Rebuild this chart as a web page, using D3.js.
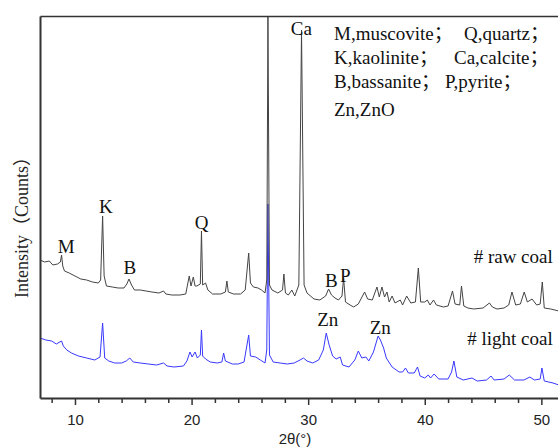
<html>

<head>
    <style>
        body { margin: 0; background: white; }
    </style>
</head>

<body>
    <svg id="container" height="448" width="558">
        <g id="body" />
    </svg>
</body>
<script src="https://d3js.org/d3.v7.min.js"></script>

<script>
    // raw coal pattern, [2theta, intensity]
    let rawCoal = [
        [7.0, 138], [7.4, 136], [7.8, 137], [8.1, 133], [8.5, 134], [8.75, 136], [8.85, 143], [8.95, 132],
        [9.1, 127], [9.5, 125], [10.0, 122], [10.5, 119], [11.0, 118], [11.5, 116], [12.0, 115], [12.2, 118],
        [12.37, 182], [12.5, 122], [12.7, 112], [13.2, 111], [13.7, 110], [14.2, 110], [14.45, 114], [14.63, 119],
        [14.85, 113], [15.1, 108], [15.6, 108], [16.1, 107], [16.6, 106], [17.2, 105], [17.6, 107], [17.8, 104],
        [18.3, 103], [19.0, 103], [19.5, 104], [19.8, 122], [19.95, 112], [20.15, 121], [20.3, 112], [20.45, 112],
        [20.75, 114], [20.85, 167], [20.95, 113], [21.2, 115], [21.4, 108], [21.8, 104], [22.5, 104], [22.9, 106],
        [23.03, 117], [23.15, 106], [23.6, 104], [24.2, 104], [24.6, 108], [24.9, 145], [25.05, 115], [25.3, 111],
        [25.7, 110], [26.0, 108], [26.3, 105], [26.45, 118], [26.55, 381], [26.68, 113], [26.9, 108], [27.4, 105],
        [27.8, 108], [27.92, 124], [28.05, 105], [28.3, 103], [28.6, 108], [28.85, 102], [29.2, 113], [29.43, 368],
        [29.65, 113], [29.9, 105], [30.5, 99], [31.0, 98], [31.5, 102], [31.75, 109], [32.0, 103], [32.3, 100],
        [32.6, 98], [32.9, 102], [33.04, 120], [33.2, 96], [33.6, 93], [33.9, 91], [34.3, 94], [34.84, 106],
        [35.1, 99], [35.5, 98], [35.9, 111], [36.1, 101], [36.33, 111], [36.55, 101], [36.76, 106], [36.95, 96],
        [37.2, 102], [37.45, 95], [37.9, 98], [38.1, 93], [38.45, 102], [38.8, 95], [39.2, 96], [39.45, 130],
        [39.65, 96], [40.0, 96], [40.22, 98], [40.45, 93], [40.75, 98], [41.0, 93], [41.6, 91], [42.0, 92],
        [42.38, 107], [42.6, 94], [43.0, 93], [43.15, 112], [43.35, 92], [43.7, 90], [44.2, 89], [45.0, 90],
        [45.55, 95], [45.8, 91], [46.2, 89], [46.8, 90], [47.2, 93], [47.48, 106], [47.8, 93], [48.2, 94],
        [48.53, 106], [48.8, 96], [49.2, 99], [49.6, 93], [49.9, 94], [50.08, 116], [50.25, 90], [50.8, 89],
        [51.5, 87], [52.5, 86]
    ]

    // light coal pattern, [2theta, intensity]
    let lightCoal = [
        [7.0, 60], [7.5, 58], [8.0, 57], [8.4, 54], [8.85, 57], [9.0, 52], [9.3, 48], [9.7, 45],
        [10.3, 42], [11.0, 40], [11.7, 38], [12.15, 41], [12.37, 75], [12.55, 40], [12.9, 37], [13.4, 35],
        [14.0, 35], [14.4, 37], [14.7, 40], [15.0, 36], [15.6, 35], [16.3, 34], [17.0, 33], [17.6, 35],
        [17.9, 32], [18.5, 31], [19.3, 32], [19.6, 37], [19.86, 46], [20.05, 41], [20.3, 46], [20.5, 40],
        [20.75, 43], [20.85, 68], [20.95, 42], [21.2, 39], [21.6, 36], [22.2, 35], [22.6, 36], [22.75, 45],
        [22.9, 37], [23.5, 34], [24.0, 34], [24.5, 36], [24.9, 63], [25.05, 42], [25.5, 41], [25.9, 38],
        [26.3, 35], [26.45, 48], [26.55, 194], [26.68, 43], [27.0, 36], [27.6, 35], [28.2, 34], [28.8, 35],
        [29.3, 38], [29.6, 40], [29.9, 37], [30.4, 35], [30.9, 38], [31.3, 48], [31.55, 65], [31.8, 53],
        [32.1, 42], [32.4, 39], [32.75, 41], [32.95, 33], [33.5, 31], [34.0, 38], [34.3, 47], [34.6, 40],
        [34.95, 41], [35.2, 37], [35.6, 46], [36.0, 62], [36.2, 58], [36.47, 50], [36.7, 40], [37.2, 31],
        [37.8, 26], [38.1, 26], [38.35, 30], [38.6, 25], [39.1, 25], [39.38, 31], [39.6, 22], [40.0, 20],
        [40.3, 23], [40.5, 20], [40.8, 24], [41.2, 19], [42.0, 19], [42.3, 26], [42.5, 37], [42.75, 21],
        [43.3, 18], [44.05, 20], [44.5, 17], [45.3, 18], [45.68, 22], [45.95, 18], [46.8, 19], [47.25, 23],
        [47.7, 18], [48.5, 18], [49.02, 21], [49.4, 18], [49.9, 19], [50.05, 30], [50.25, 17], [51.0, 15],
        [51.5, 13], [52.5, 12]
    ]

    let majorTicks = [10, 20, 30, 40, 50]
    let minorTicks = [8, 12, 14, 16, 18, 22, 24, 26, 28, 32, 34, 36, 38, 42, 44, 46, 48, 52]

    // peak labels: [text, 2theta, intensity level of baseline]
    let peakLabels = [
        ["M", 9.25, 145], ["K", 12.64, 185], ["B", 14.70, 124], ["Q", 20.87, 169],
        ["Ca", 29.41, 363], ["B", 31.98, 111], ["P", 33.18, 116],
        ["Zn", 31.68, 72], ["Zn", 36.18, 64]
    ]
    let seriesLabels = [["# raw coal", 135], ["# light coal", 53]]

    let legendRows = [
        ["M,muscovite；", "Q,quartz；"],
        ["K,kaolinite；", "Ca,calcite；"],
        ["B,bassanite；", "P,pyrite；"],
        ["Zn,ZnO"]
    ]

    let svg = d3.select("#container")
    let body = d3.select("#body")
    let plotLeft = 40, plotTop = 16, plotBottom = 398, plotRight = 570.5

    let x = d3.scaleLinear().domain([7, 52.5]).range([plotLeft, plotRight])
    let y = d3.scaleLinear().domain([0, 382]).range([plotBottom, plotTop])

    let serif = "'Liberation Serif', 'Times New Roman', 'Noto Sans CJK SC', serif"
    let sans = "'Liberation Sans', Arial, sans-serif"

    svg.append("defs").append("clipPath").attr("id", "clip")
        .append("rect").attr("x", plotLeft).attr("y", plotTop)
        .attr("width", plotRight - plotLeft).attr("height", plotBottom - plotTop)

    let line = d3.line().x(d => x(d[0])).y(d => y(d[1]))

    body.append("path").datum(lightCoal)
        .attr("d", line)
        .attr("clip-path", "url(#clip)")
        .attr("fill", "none")
        .attr("stroke", "#3838ff")
        .attr("stroke-width", 1)

    body.append("path").datum(rawCoal)
        .attr("d", line)
        .attr("clip-path", "url(#clip)")
        .attr("fill", "none")
        .attr("stroke", "#444")
        .attr("stroke-width", 1)

    // frame
    body.append("g").attr("transform", `translate(0,${plotTop})`)
        .call(d3.axisTop(x).tickValues([]).tickSizeOuter(0))
        .select(".domain").attr("stroke", "#333").attr("stroke-width", 1.5)
    body.append("g").attr("transform", `translate(${plotLeft},0)`)
        .call(d3.axisLeft(y).tickValues([]).tickSizeOuter(0))
        .select(".domain").attr("stroke", "#333").attr("stroke-width", 2)

    body.append("g").attr("transform", `translate(0,${plotBottom})`)
        .call(d3.axisBottom(x).tickValues(minorTicks).tickSize(5).tickFormat(""))
        .call(g => g.select(".domain").remove())
        .selectAll("line").attr("stroke", "#333").attr("stroke-width", 1.5)

    let xAxis = body.append("g").attr("transform", `translate(0,${plotBottom})`)
        .call(d3.axisBottom(x).tickValues(majorTicks).tickSize(7).tickSizeOuter(0).tickFormat(d3.format("d")))
    xAxis.select(".domain").attr("stroke", "#333").attr("stroke-width", 2)
    xAxis.selectAll("line").attr("stroke", "#333").attr("stroke-width", 1.5)
    xAxis.selectAll("text")
        .attr("y", 27).attr("dy", 0)
        .attr("font-family", sans).attr("font-size", "15px").attr("fill", "#222")

    body.append("text")
        .attr("x", 295).attr("y", 444)
        .attr("text-anchor", "middle")
        .attr("font-family", sans).attr("font-size", "15px").attr("fill", "#222")
        .text("2θ(°)")

    body.append("text")
        .attr("transform", "translate(28,223) rotate(-90)")
        .attr("text-anchor", "middle")
        .attr("font-family", serif).attr("font-size", "18px").attr("fill", "#222")
        .text("Intensity（Counts）")

    body.selectAll(".peak").data(peakLabels)
        .enter().append("text")
        .attr("class", "peak")
        .attr("x", d => x(d[1])).attr("y", d => y(d[2]))
        .attr("text-anchor", "middle")
        .attr("font-family", serif).attr("font-size", "19px").attr("fill", "#111")
        .text(d => d[0])

    body.selectAll(".series").data(seriesLabels)
        .enter().append("text")
        .attr("class", "series")
        .attr("x", x(50.98)).attr("y", d => y(d[1]))
        .attr("text-anchor", "end")
        .attr("font-family", serif).attr("font-size", "19px").attr("fill", "#111")
        .text(d => d[0])

    // legend block, upper right
    let rowY = [40, 64, 88, 116]
    let colX = [[334, 464], [334, 454], [334, 445], [334]]
    legendRows.forEach((row, i) => {
        row.forEach((t, j) => {
            body.append("text")
                .attr("x", colX[i][j]).attr("y", rowY[i])
                .attr("font-family", serif).attr("font-size", "19px").attr("fill", "#111")
                .text(t)
        })
    })

</script>

</html>
